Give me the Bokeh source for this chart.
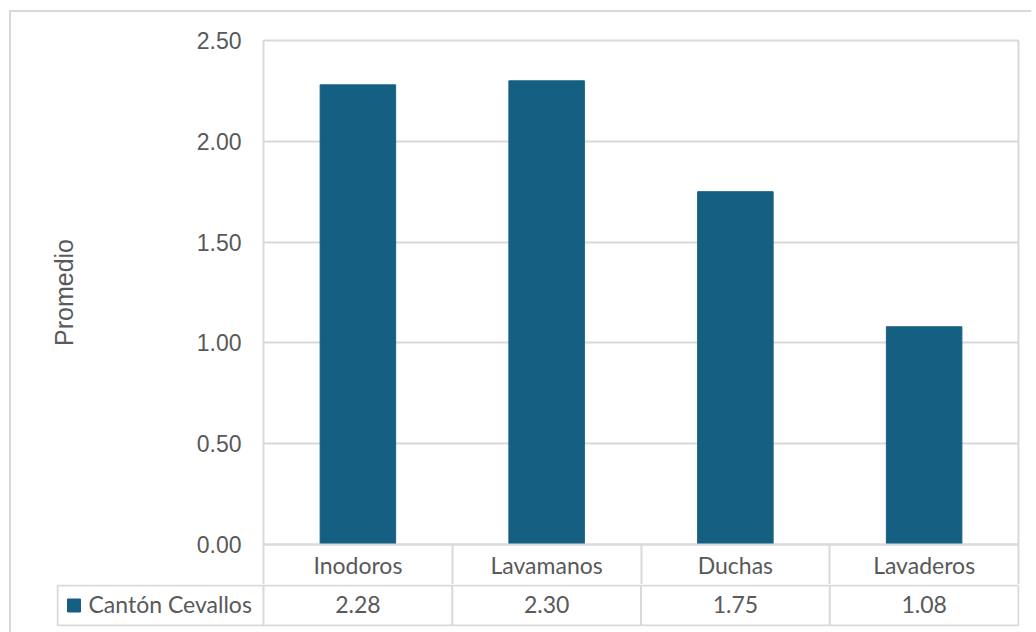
from bokeh.plotting import figure
from bokeh.models import Range1d, FixedTicker, NumeralTickFormatter
from bokeh.layouts import column
from bokeh.core.properties import value
from bokeh.embed import file_html
from bokeh.resources import INLINE

categories = ["Inodoros", "Lavamanos", "Duchas", "Lavaderos"]
values = [2.28, 2.30, 1.75, 1.08]
series_name = "Cantón Cevallos"
y_ticks = [0.0, 0.5, 1.0, 1.5, 2.0, 2.5]
y_label = "Promedio"

BAR = "#156082"
GRID = "#D9D9D9"
TXT = "#595959"

n = len(categories)
centers = [i + 0.5 for i in range(n)]
bounds = list(range(n + 1))

W = 1020
# ---------------- main chart (with category row) ----------------
p = figure(width=W, height=572, x_range=Range1d(0, n), y_range=Range1d(0, 2.5),
           output_backend="svg", toolbar_location=None,
           min_border_left=252, min_border_right=13, min_border_top=28, min_border_bottom=40)
p.vbar(x=centers, top=values, width=0.4, color=BAR)
p.xgrid.visible = False
p.ygrid.grid_line_color = GRID
p.ygrid.grid_line_width = 2
p.yaxis.ticker = FixedTicker(ticks=y_ticks)
p.yaxis.formatter = NumeralTickFormatter(format="0.00")
p.yaxis.axis_line_color = None
p.yaxis.major_tick_line_color = None
p.yaxis.minor_tick_line_color = None
p.yaxis.major_tick_out = 0
p.yaxis.major_label_standoff = 22
p.yaxis.major_label_text_font = "Liberation Sans"
p.yaxis.major_label_text_font_size = "23px"
p.yaxis.major_label_text_color = TXT
p.yaxis.axis_label = y_label
p.yaxis.axis_label_text_font = "Liberation Sans"
p.yaxis.axis_label_text_font_style = "normal"
p.yaxis.axis_label_text_font_size = "25px"
p.yaxis.axis_label_text_color = TXT
p.yaxis.axis_label_standoff = 116

p.xaxis.ticker = FixedTicker(ticks=centers, minor_ticks=bounds)
p.xaxis.major_label_overrides = {c: name for c, name in zip(centers, categories)}
p.xaxis.major_tick_line_color = None
p.xaxis.major_tick_out = 0
p.xaxis.major_tick_in = 0
p.xaxis.minor_tick_in = 0
p.xaxis.minor_tick_out = 40
p.xaxis.minor_tick_line_color = GRID
p.xaxis.minor_tick_line_width = 2
p.xaxis.axis_line_color = GRID
p.xaxis.axis_line_width = 2
p.xaxis.major_label_standoff = -34
p.xaxis.major_label_text_font = "Lato"
p.xaxis.major_label_text_font_size = "23px"
p.xaxis.major_label_text_color = TXT
p.outline_line_color = GRID
p.outline_line_width = 2

# ---------------- data table row ----------------
cat_px = 755 / n
legend_left = -(263 - 57) / cat_px
pad = 1 / cat_px
t = figure(width=W, height=48, x_range=Range1d(legend_left - pad, n + pad),
           y_range=Range1d(-0.025, 1.025),
           output_backend="svg", toolbar_location=None, frame_align=False,
           min_border_left=45, min_border_right=12, min_border_top=0, min_border_bottom=6)
t.axis.visible = False
t.grid.visible = False
t.outline_line_color = None
t.segment(x0=[legend_left, legend_left], x1=[n, n], y0=[1, 0], y1=[1, 0],
          line_color=GRID, line_width=2)
xs = [legend_left] + bounds
t.segment(x0=xs, x1=xs, y0=[0] * len(xs), y1=[1] * len(xs), line_color=GRID, line_width=2)
t.text(x=centers, y=[0.53] * n, text=["%.2f" % v for v in values], text_align="center",
       text_baseline="middle", text_font=value("Lato"), text_font_size="23px", text_color=TXT)
t.scatter(x=[legend_left + 16.5 / cat_px], y=[0.5], marker="square", size=13, color=BAR)
t.text(x=[legend_left + 31 / cat_px], y=[0.53], text=[series_name], text_align="left",
       text_baseline="middle", text_font=value("Lato"), text_font_size="23px", text_color=TXT)

layout = column(p, t, spacing=0, margin=(10, 0, 0, 9),
                styles={"border-top": "2px solid #D9D9D9", "border-left": "2px solid #D9D9D9"})
open("out.html", "w").write(file_html(layout, INLINE))
